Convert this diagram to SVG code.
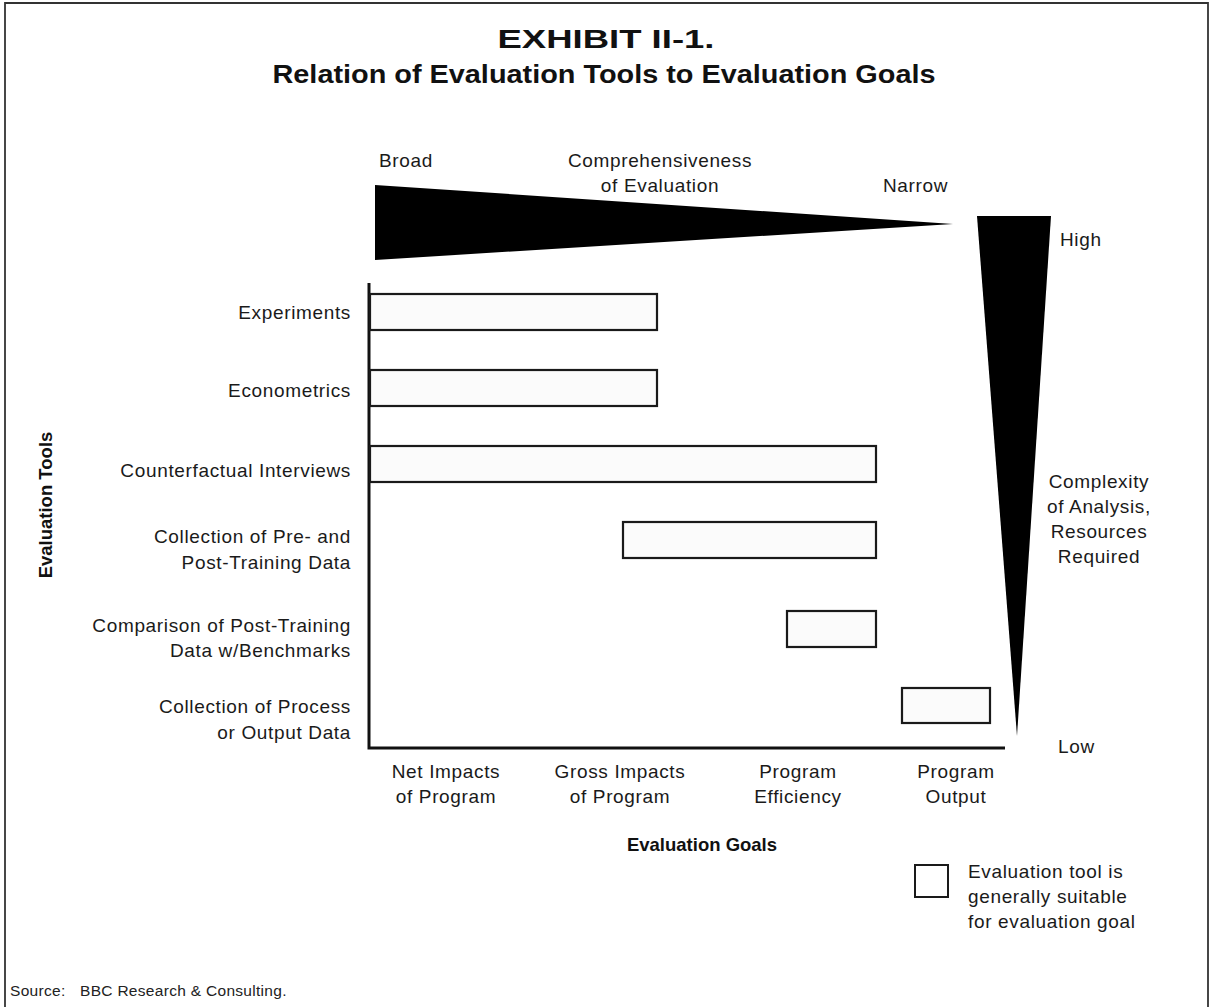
<svg xmlns="http://www.w3.org/2000/svg" width="1212" height="1007" viewBox="0 0 1212 1007">
  <style>
    .lbl { font-family: "Liberation Sans", Arial, sans-serif; font-size: 19px; fill: #1a1a1a; letter-spacing: 0.65px; }
    .end { text-anchor: end; }
    .mid { text-anchor: middle; }
    .bold { font-family: "Liberation Sans", Arial, sans-serif; font-weight: bold; font-size: 18.5px; fill: #111; }
    .title { font-family: "Liberation Sans", Arial, sans-serif; font-weight: bold; font-size: 25px; fill: #111; text-anchor: middle; }
    .bar { fill: #fbfbfb; stroke: #1a1a1a; stroke-width: 2.2; }
    .axis { stroke: #111; stroke-width: 3; fill: none; }
    .wedge { fill: #000; }
    .src { font-family: "Liberation Sans", Arial, sans-serif; font-size: 15.5px; fill: #222; letter-spacing: 0.3px; }
  </style>

  <!-- outer frame -->
  <path d="M5,1007 V3 H1208 V1007" fill="none" stroke="#333" stroke-width="1.8"/>

  <!-- heading -->
  <text class="title" x="606" y="48" textLength="217" lengthAdjust="spacingAndGlyphs">EXHIBIT II-1.</text>
  <text class="title" x="604" y="83" textLength="663" lengthAdjust="spacingAndGlyphs">Relation of Evaluation Tools to Evaluation Goals</text>

  <!-- comprehensiveness scale -->
  <g id="scale-comprehensiveness">
    <polygon class="wedge" points="375,185 953,224 375,260"/>
    <text class="lbl" x="379" y="167">Broad</text>
    <text class="lbl mid" x="660" y="167">Comprehensiveness</text>
    <text class="lbl mid" x="660" y="192">of Evaluation</text>
    <text class="lbl" x="883" y="192">Narrow</text>
  </g>

  <!-- complexity scale -->
  <g id="scale-complexity">
    <polygon class="wedge" points="977,216 1051,216 1017,736"/>
    <text class="lbl" x="1060" y="246">High</text>
    <text class="lbl mid" x="1099" y="488">Complexity</text>
    <text class="lbl mid" x="1099" y="513">of Analysis,</text>
    <text class="lbl mid" x="1099" y="538">Resources</text>
    <text class="lbl mid" x="1099" y="563">Required</text>
    <text class="lbl" x="1058" y="753">Low</text>
  </g>

  <!-- axes -->
  <g id="axes">
    <path class="axis" d="M369,283 V748 H1005"/>
    <text class="bold" transform="translate(52,505) rotate(-90)" text-anchor="middle">Evaluation Tools</text>
    <text class="bold" x="702" y="851" text-anchor="middle">Evaluation Goals</text>
  </g>

  <!-- evaluation tools (rows) -->
  <g id="tool-experiments">
    <text class="lbl end" x="351" y="319">Experiments</text>
    <rect class="bar" x="370" y="294" width="287" height="36"/>
  </g>
  <g id="tool-econometrics">
    <text class="lbl end" x="351" y="397">Econometrics</text>
    <rect class="bar" x="370" y="370" width="287" height="36"/>
  </g>
  <g id="tool-counterfactual">
    <text class="lbl end" x="351" y="477">Counterfactual Interviews</text>
    <rect class="bar" x="370" y="446" width="506" height="36"/>
  </g>
  <g id="tool-prepost">
    <text class="lbl end" x="351" y="543">Collection of Pre- and</text>
    <text class="lbl end" x="351" y="569">Post-Training Data</text>
    <rect class="bar" x="623" y="522" width="253" height="36"/>
  </g>
  <g id="tool-benchmarks">
    <text class="lbl end" x="351" y="632">Comparison of Post-Training</text>
    <text class="lbl end" x="351" y="657">Data w/Benchmarks</text>
    <rect class="bar" x="787" y="611" width="89" height="36"/>
  </g>
  <g id="tool-process">
    <text class="lbl end" x="351" y="713">Collection of Process</text>
    <text class="lbl end" x="351" y="739">or Output Data</text>
    <rect class="bar" x="902" y="688" width="88" height="35"/>
  </g>

  <!-- evaluation goals (columns) -->
  <g id="goal-net">
    <text class="lbl mid" x="446" y="778">Net Impacts</text>
    <text class="lbl mid" x="446" y="803">of Program</text>
  </g>
  <g id="goal-gross">
    <text class="lbl mid" x="620" y="778">Gross Impacts</text>
    <text class="lbl mid" x="620" y="803">of Program</text>
  </g>
  <g id="goal-efficiency">
    <text class="lbl mid" x="798" y="778">Program</text>
    <text class="lbl mid" x="798" y="803">Efficiency</text>
  </g>
  <g id="goal-output">
    <text class="lbl mid" x="956" y="778">Program</text>
    <text class="lbl mid" x="956" y="803">Output</text>
  </g>

  <!-- legend -->
  <g id="legend">
    <rect x="915" y="865" width="33" height="32" fill="#fff" stroke="#1a1a1a" stroke-width="2"/>
    <text class="lbl" x="968" y="878">Evaluation tool is</text>
    <text class="lbl" x="968" y="903">generally suitable</text>
    <text class="lbl" x="968" y="928">for evaluation goal</text>
  </g>

  <!-- source note -->
  <text class="src" x="10" y="996">Source:</text>
  <text class="src" x="80" y="996">BBC Research &amp; Consulting.</text>
</svg>
